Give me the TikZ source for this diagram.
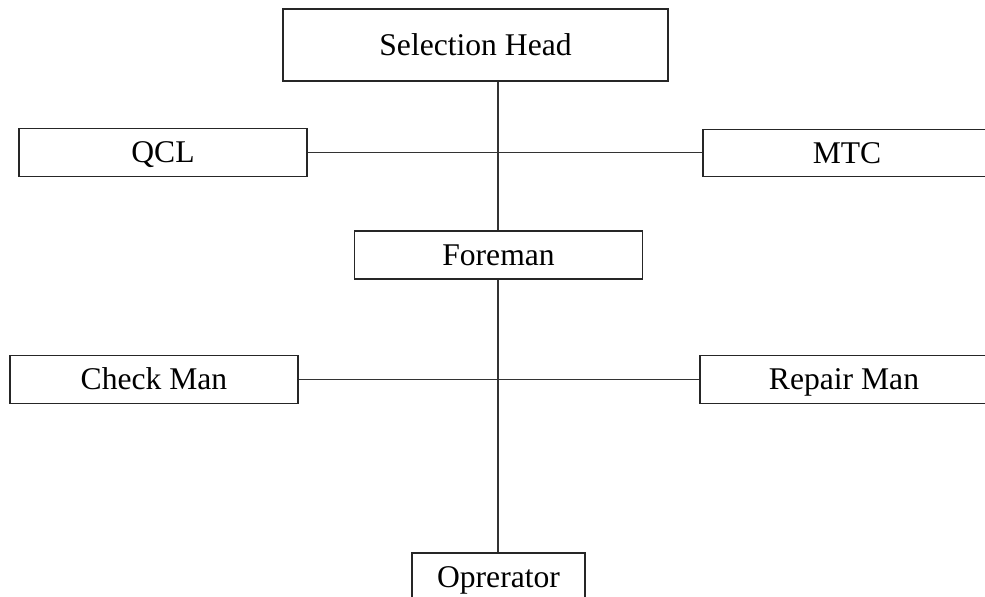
\documentclass[tikz,border=0pt]{standalone}
\usepackage{fontspec}
\setmainfont{Liberation Serif}
\begin{document}
\begin{tikzpicture}[x=0.5pt,y=-0.5pt,
  box/.style={draw=black!85, line width=0.55pt, rectangle, inner sep=0pt,
    font=\fontsize{15.8}{19}\selectfont, text height=10.4pt, text depth=0pt,
    minimum width=144pt, minimum height=23.75pt},
  link/.style={draw=black!80, line width=0.55pt}]
\clip (0,0) rectangle (985,596);
\useasboundingbox (0,0) rectangle (985,596);
\node[box, minimum width=192.5pt, minimum height=36pt] (sel) at (475.5,45) {Selection Head};
\node[box] (qcl) at (163,152.5) {QCL};
\node[box] (mtc) at (847,153) {MTC};
\node[box, minimum height=24pt] (fore) at (498.5,255) {Foreman};
\node[box] (check) at (154,379.5) {Check Man};
\node[box] (repair) at (844,379.5) {Repair Man};
\node[box, minimum width=86.5pt, minimum height=24pt] (oper) at (498.5,577) {Oprerator};
\coordinate (v) at (498,0);
\draw[link] (sel.south -| v) -- (fore.north -| v);
\draw[link] (qcl.east) -- (mtc.west |- qcl.east);
\draw[link] (fore.south -| v) -- (oper.north -| v);
\draw[link] (check.east) -- (repair.west);
\end{tikzpicture}
\end{document}
